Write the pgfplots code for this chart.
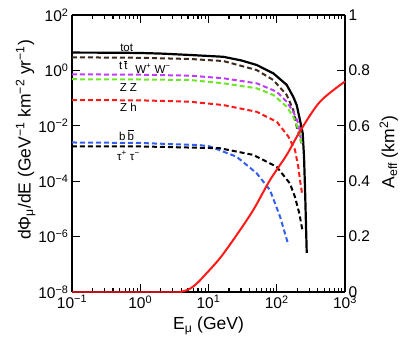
\documentclass[border=0pt]{standalone}
\usepackage{fontspec}
\setmainfont{Liberation Sans}
\usepackage{pgfplots}
\pgfplotsset{compat=1.18}

\definecolor{cbrown}{RGB}{65,42,28}
\definecolor{cpurple}{RGB}{190,60,250}
\definecolor{cgreen}{RGB}{110,230,40}
\definecolor{cred}{RGB}{255,25,25}
\definecolor{cblue}{RGB}{50,95,240}

\pgfplotsset{
  every axis/.append style={
    width=273pt, height=277pt, scale only axis,
    xmin=0.1, xmax=1000,
    axis line style={line width=2pt},
    tick style={black, line width=1.2pt},
    major tick length=8pt, minor tick length=4.5pt,
    tick align=inside,
    every tick label/.append style={font=\fontsize{15.5}{15.5}\selectfont},
    every axis label/.append style={font=\fontsize{17.5}{17.5}\selectfont},
  },
}
\tikzset{dsh/.style={line width=2pt, dash pattern=on 5pt off 3pt}}

\begin{document}
\begin{tikzpicture}
\begin{axis}[
  xmode=log, ymode=log, ymin=1e-8, ymax=1e2,
  axis y line*=left,
  xtick={0.1,1,10,100,1000},
  xticklabels={10\textsuperscript{−1},10\textsuperscript{0},10\textsuperscript{1},10\textsuperscript{2},10\textsuperscript{3}},
  ytick={1e-8,1e-6,1e-4,1e-2,1,100},
  yticklabels={10\textsuperscript{−8},10\textsuperscript{−6},10\textsuperscript{−4},10\textsuperscript{−2},10\textsuperscript{0},10\textsuperscript{2}},
  yminorticks=false,
  xlabel={E\textsubscript{μ} (GeV)},
  xlabel style={at={(axis description cs:0.5,0)}, yshift=-34pt, anchor=center},
  ylabel={dΦ\textsubscript{μ}/dE (GeV\textsuperscript{−1} km\textsuperscript{−2} yr\textsuperscript{−1})},
  ylabel style={at={(axis description cs:-0.17,0.549)}, anchor=center},
]
% tot
\addplot[black, line width=2.2pt] coordinates {
 (0.1,4.4) (0.5,4.35) (1,4.25) (2,4.05) (5.4,3.6) (16.5,3.1) (30,2.3) (50.8,1.57)
 (89,0.785) (140,0.30) (175,0.11) (196,0.056) (219,0.016) (240,0.0054)
 (251,7.6e-4) (260,4.8e-5) (275,2.6e-7)};
% t tbar
\addplot[cbrown, dsh] coordinates {
 (0.1,2.97) (1,2.85) (5.4,2.58) (16.5,2.18) (50.8,1.03) (89,0.45) (140,0.13)
 (175,0.037) (196,9.3e-3) (219,4.1e-3) (228,2.4e-3)};
% W+W-
\addplot[cpurple, dsh] coordinates {
 (0.1,0.72) (1,0.70) (5.4,0.645) (16.5,0.52) (50.8,0.342) (100,0.17) (140,0.074)
 (175,0.032) (207,0.0123) (232,2.3e-3)};
% ZZ
\addplot[cgreen, dsh] coordinates {
 (0.1,0.48) (1,0.47) (5.4,0.45) (16.5,0.342) (50.8,0.226) (89,0.13) (140,0.049)
 (175,0.021) (219,5.4e-3) (232,2e-3)};
% Zh
\addplot[cred, dsh] coordinates {
 (0.1,0.085) (1,0.083) (5.4,0.074) (16.5,0.056) (50.8,0.032) (100,0.014)
 (148,4.1e-3) (185,1.35e-3) (207,3.3e-4) (219,1.1e-4) (235,3.6e-5)};
% b bbar
\addplot[cblue, dsh] coordinates {
 (0.1,2.5e-3) (1,2.4e-3) (7.5,2.0e-3) (10.5,1.8e-3) (25.9,7.6e-4) (50.8,1.94e-4)
 (79.6,4.8e-5) (112,5.2e-6) (148,5e-7)};
% tau tau
\addplot[black, dsh] coordinates {
 (0.1,1.8e-3) (1,1.8e-3) (14.7,1.55e-3) (45.3,8.9e-4) (100,3.3e-4) (156,8.3e-5)
 (185,2.7e-5) (214,6.9e-6) (240,1.5e-6)};

\node[font=\fontsize{11.5}{11.5}\selectfont] at (axis cs:0.632,6.6) {tot};
\node[font=\fontsize{11.5}{11.5}\selectfont] at (axis cs:0.565,1.53) {t\,$\overline{\hbox{t}}$};
\node[font=\fontsize{11.5}{11.5}\selectfont] at (axis cs:1.54,1.15) {W\textsuperscript{+} W\textsuperscript{−}};
\node[font=\fontsize{11.5}{11.5}\selectfont] at (axis cs:0.67,0.245) {Z Z};
\node[font=\fontsize{11.5}{11.5}\selectfont] at (axis cs:0.67,0.047) {Z h};
\node[font=\fontsize{11.5}{11.5}\selectfont] at (axis cs:0.63,4.6e-3) {b\,$\overline{\hbox{b}}$};
\node[font=\fontsize{11.5}{11.5}\selectfont] at (axis cs:0.67,8.2e-4) {τ\textsuperscript{+} τ\textsuperscript{−}};
\end{axis}

\begin{axis}[
  xmode=log, ymin=0, ymax=1,
  axis x line=none,
  axis y line*=right,
  clip=false,
  ytick={0,0.2,0.4,0.6,0.8,1},
  yticklabels={0,0.2,0.4,0.6,0.8,1},
  ylabel={A\textsubscript{eff} (km\textsuperscript{2})},
  ylabel style={at={(axis description cs:1.16,0.505)}, anchor=center},
]
\addplot[cred!75!black, line width=1.6pt] coordinates {(0.1,0) (3.8,0)};
\addplot[cred, line width=2pt, smooth, tension=0.5] coordinates {
 (3.8,0) (5,0.008) (6.5,0.027) (8.4,0.055) (14.7,0.122) (25.9,0.206)
 (45.3,0.296) (79.6,0.404) (140,0.495) (219,0.58) (430,0.687) (1000,0.76)};
\end{axis}
\pgfresetboundingbox
\path (-72pt,-50pt) rectangle (335pt,292pt);
\end{tikzpicture}
\end{document}
